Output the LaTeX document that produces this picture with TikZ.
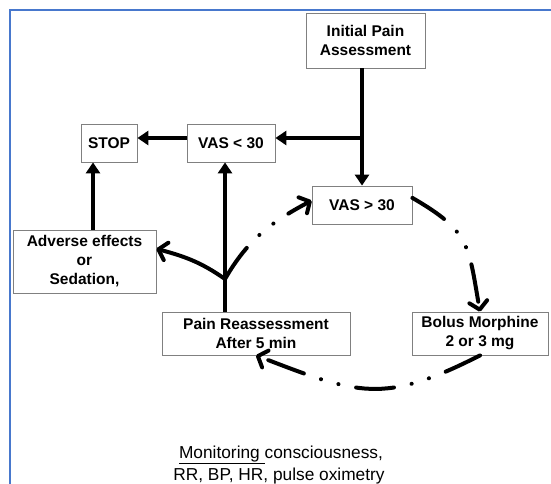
\documentclass[tikz,border=0pt]{standalone}
\usepackage{fontspec}
\setmainfont{Liberation Sans}
\usepackage{tikz}
\usetikzlibrary{positioning,arrows.meta}
\definecolor{frameblue}{RGB}{72,120,205}

\begin{document}
\begin{tikzpicture}[x=1pt,y=1pt,
box/.style={draw=gray,line width=0.8pt,rectangle,inner sep=0pt,align=center,
    font=\fontsize{15.5}{19}\selectfont\bfseries},
note/.style={anchor=base,font=\fontsize{17.3}{20}\selectfont},
flow/.style={line width=4pt,-{Triangle[length=11pt,width=14pt]}},
swing/.style={line width=4pt,-{Straight Barb[length=8pt,width=18pt,round]}},
dotdash/.style={swing,line cap=round,
    dash pattern=on 38pt off 18pt on 0.1pt off 18pt on 0.1pt off 18pt}]
\useasboundingbox (0,0) rectangle (551,-484);
\draw[frameblue,line width=2.5pt] (10,-484) -- (10,-10) -- (551,-10);

\node (init) [box,minimum width=119pt,minimum height=55pt] at (365.5,-40.5)
    {Initial Pain\\Assessment};
\node (stop) [box,minimum width=56pt,minimum height=38pt] at (109,-143) {STOP};
\node (vaslow) [box,minimum width=88pt,minimum height=38pt] at (231,-143) {VAS < 30};
\node (vashigh) [box,minimum width=100pt,minimum height=38pt] at (362,-205) {VAS > 30};
\node (adverse) [box,minimum width=143pt,minimum height=63pt] at (84.5,-261.5)
    {Adverse effects\\or\\Sedation,};
\node (pr) [box,minimum width=188pt,minimum height=43pt] at (256,-333.5)
    {Pain Reassessment\\After 5 min};
\node (bolus) [box,minimum width=136pt,minimum height=43pt] at (480,-333.5)
    {Bolus Morphine\\2 or 3 mg};
\node (monitor) [note] at (281,-458) {\underline{Monitoring }consciousness,};
\node (vitals) [note] at (279,-480) {RR, BP, HR, pulse oximetry};

\coordinate (split) at (vashigh.north |- 0,-138);
\coordinate (fork) at (225,-279);

\draw[line width=4pt] (init.south -| split) -- (split);
\draw[flow] (split) -- (vashigh.north);
\draw[flow] (split) -- (split -| vaslow.east);
\draw[flow] (vaslow.west |- split) -- (split -| stop.east);
\draw[flow] ([xshift=-16pt]stop.south |- adverse.north) -- ([xshift=-16pt]stop.south);
\draw[line width=4pt] (fork |- pr.north) -- (fork);
\draw[flow] (fork) -- (fork |- vaslow.south);
\draw[swing] (fork) to[out=145,in=-15] (adverse.10);
\draw[dotdash] (fork) to[out=60,in=208] (vashigh.175);
\draw[dotdash] (vashigh.8) to[out=-30,in=100,looseness=1.3] (bolus.north);
\draw[dotdash] (bolus.south) to[out=207,in=-21,looseness=1.25] (pr.south);
\end{tikzpicture}
\end{document}
